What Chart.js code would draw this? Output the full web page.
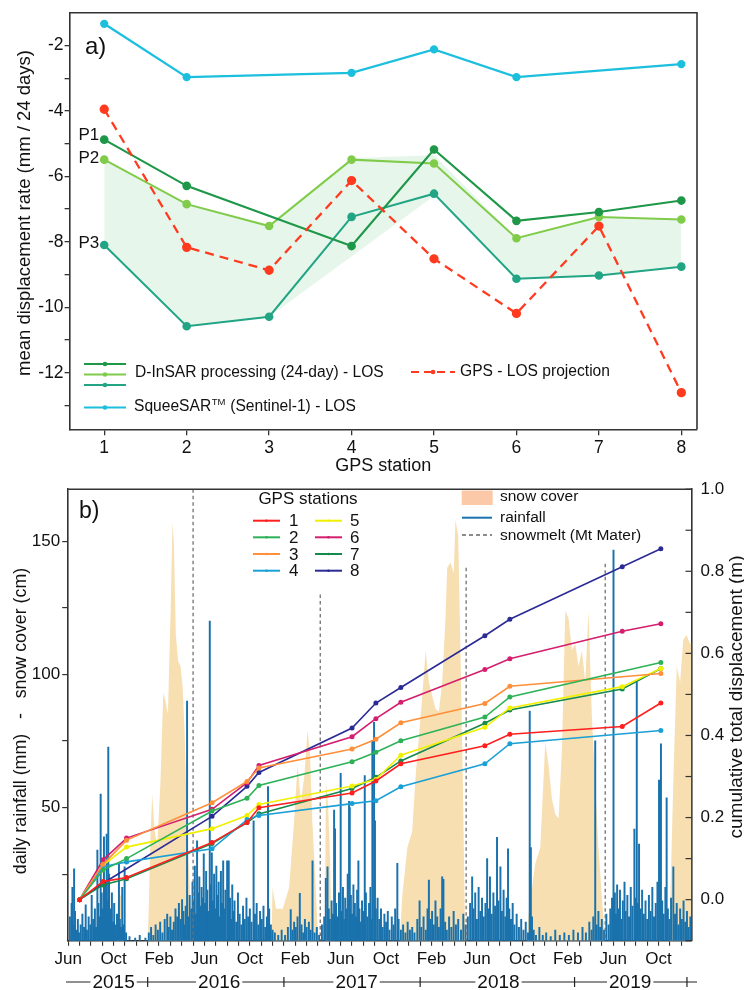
<!DOCTYPE html>
<html>
<head>
<meta charset="utf-8">
<script src="https://cdn.jsdelivr.net/npm/chart.js@4.4.1/dist/chart.umd.min.js"></script>
<style>
  body { margin: 0; background: #fff; }
  #wrap { position: relative; width: 744px; height: 990px; background: #fff; overflow: hidden; }
  canvas { position: absolute; left: 0; }
</style>
</head>
<body>
<div id="wrap">
  <canvas id="chartA" width="744" height="480" style="top:0"></canvas>
  <canvas id="chartB" width="744" height="520" style="top:470px"></canvas>
</div>
<script>
// ---------- panel a data ----------
const stations = [1, 2, 3, 4, 5, 6, 7, 8];
const dinsarP1 = [-4.88, -6.29, null, -8.13, -5.18, -7.36, -7.09, -6.74];
const dinsarP2 = [-5.49, -6.85, -7.52, -5.49, -5.61, -7.89, -7.24, -7.32];
const dinsarP3 = [-8.10, -10.58, -10.29, -7.24, -6.53, -9.13, -9.03, -8.76];
const squeesar = [-1.34, -2.97, null, -2.84, -2.12, -2.97, null, -2.57];
const gpsLos = [-3.95, -8.17, -8.87, -6.13, -8.52, -10.19, -7.52, -12.61];
const bandUpper = [-5.49, -6.85, -7.52, -5.45, -5.35, -7.89, -7.24, -7.32];
const bandLower = [-8.10, -10.58, -10.29, null, -6.60, -9.13, -9.03, -8.76];
const rateTicks = [-2, -4, -6, -8, -10, -12];

// ---------- panel b data (x = months since 1 Jun 2015) ----------
const monthNames = { 0: 'Jun', 4: 'Oct', 8: 'Feb' };
const yearLabels = ['2015', '2016', '2017', '2018', '2019'];
const yearLabelPos = [4.0, 13.3, 25.4, 37.9, 49.5];
const yearMarks = [7, 19, 31, 44.6, 54.5];
const leftTickLabels = [50, 100, 150];

const gpsDates = [1.0, 3.07, 5.14, 12.67, 15.75, 16.8, 25.0, 27.1, 29.3, 36.7, 38.9, 48.8, 52.2];
const station1 = [0, 0.044, 0.054, 0.139, 0.188, 0.224, 0.260, 0.289, 0.331, 0.375, 0.403, 0.422, 0.479];
const station2 = [0, 0.072, 0.100, 0.216, 0.247, 0.278, 0.336, 0.359, 0.387, 0.445, 0.494, null, 0.578];
const station3 = [0, 0.086, 0.145, 0.236, 0.288, 0.321, 0.367, 0.391, 0.431, 0.478, 0.520, null, 0.551];
const station4 = [0, 0.080, 0.092, 0.124, 0.195, 0.205, 0.234, 0.241, 0.275, 0.331, 0.380, null, 0.412];
const station5 = [0, 0.084, 0.128, 0.173, 0.205, 0.232, 0.277, 0.293, 0.352, 0.420, 0.467, 0.519, 0.563];
const station6 = [0, 0.097, 0.150, 0.220, 0.285, 0.327, 0.397, 0.441, 0.481, 0.561, 0.587, 0.654, 0.672];
const station7 = [0, 0.036, 0.051, 0.137, 0.188, 0.209, 0.271, 0.298, 0.338, 0.430, 0.462, 0.513, 0.563];
const station8 = [0, 0.040, null, 0.203, 0.276, 0.310, 0.418, 0.479, 0.517, 0.643, 0.683, 0.811, 0.855];

const snowmeltDates = [11.0, 22.2, 35.05, 47.3];
const snowmeltTop = [169.5, 130, 140, 141.5];

const snowCover = [
  [0, 0], [4.3, 0], [4.4, 18], [4.8, 16], [4.9, 0], [7.0, 0], [7.1, 13], [7.25, 40], [7.4, 55], [7.6, 42],
  [7.84, 35], [8.13, 60], [8.37, 93], [8.57, 90], [8.78, 85], [9.0, 120], [9.19, 157], [9.3, 150], [9.48, 115],
  [9.68, 105], [9.89, 103], [10.07, 96], [10.24, 80], [10.4, 55], [10.6, 30], [10.8, 10], [11.0, 0],
  [17.9, 0], [18.0, 20], [18.3, 12], [18.9, 12], [19.46, 20], [19.9, 45], [20.2, 66], [20.5, 52], [20.8, 62],
  [21.08, 79], [21.3, 70], [21.5, 45], [21.75, 25], [21.96, 5], [22.1, 0], [22.6, 0], [22.7, 60], [22.9, 50],
  [23.07, 30], [23.2, 0],
  [29.2, 0], [29.43, 17], [29.87, 35], [30.3, 41], [30.6, 62], [30.9, 77], [31.19, 92], [31.48, 109], [31.77, 97],
  [32.06, 92], [32.36, 87], [32.65, 86], [32.94, 97], [33.23, 121], [33.38, 140], [33.67, 142], [33.96, 138],
  [34.11, 158], [34.35, 152], [34.55, 109], [34.76, 60], [34.93, 10], [35.05, 0],
  [40.4, 0], [40.55, 10], [41.14, 29], [41.58, 35], [42.02, 74.5], [42.31, 66], [42.6, 53.5], [42.9, 47.5],
  [43.19, 46], [43.49, 72], [43.78, 124], [44.07, 121], [44.37, 109], [44.66, 111.5], [44.95, 103], [45.25, 109],
  [45.54, 97], [45.83, 124], [46.12, 84.5], [46.41, 60], [46.7, 35], [47.0, 16.6], [47.3, 0],
  [52.9, 0], [53.0, 10], [53.15, 35], [53.3, 60], [53.6, 103], [53.9, 97], [54.17, 113], [54.47, 114.8], [54.76, 111.5], [54.9, 112]
];

const rainfall = [
  [0.15, 9], [0.3, 14], [0.37, 20], [0.45, 6], [0.52, 27], [0.6, 11], [0.72, 4], [0.85, 8], [0.95, 3],
  [1.1, 6], [1.25, 10], [1.4, 5], [1.54, 13.5], [1.65, 4], [1.8, 9], [1.95, 6], [2.07, 17], [2.2, 8], [2.35, 12],
  [2.45, 5], [2.57, 34], [2.66, 14], [2.75, 9], [2.86, 55], [2.95, 18], [3.05, 12], [3.15, 39], [3.25, 22],
  [3.39, 40], [3.47, 15], [3.53, 72.7], [3.6, 25], [3.68, 10], [3.74, 12], [3.85, 18], [3.95, 7], [4.05, 14],
  [4.18, 6], [4.3, 10], [4.47, 29], [4.55, 8], [4.65, 5], [4.76, 20], [4.85, 6], [4.97, 27.7], [5.1, 3],
  [5.4, 1.5], [5.9, 1], [6.3, 2], [6.8, 1],
  [7.1, 3], [7.3, 5], [7.5, 2], [7.7, 6], [7.9, 4], [8.1, 7], [8.3, 3], [8.5, 8], [8.72, 10], [8.85, 5],
  [9.0, 9], [9.15, 4], [9.3, 7], [9.45, 12], [9.6, 9], [9.75, 14], [9.9, 8], [10.03, 15.4], [10.15, 11],
  [10.25, 6], [10.35, 13], [10.47, 90], [10.58, 9], [10.7, 17], [10.85, 12], [10.95, 22], [11.05, 15],
  [11.15, 28], [11.25, 10], [11.35, 37.5], [11.45, 18], [11.55, 24], [11.65, 13], [11.75, 20], [11.85, 16],
  [11.94, 32.6], [12.05, 14], [12.15, 26], [12.25, 19], [12.35, 11], [12.47, 120], [12.55, 21], [12.65, 33],
  [12.75, 15], [12.85, 25], [12.95, 12], [13.05, 28], [13.15, 17], [13.25, 22], [13.35, 9], [13.45, 26],
  [13.55, 14], [13.65, 30], [13.75, 12], [13.85, 19], [14.0, 30], [14.14, 30], [14.25, 16], [14.35, 8],
  [14.45, 21], [14.55, 11], [14.65, 15], [14.8, 7], [14.95, 18], [15.1, 10], [15.25, 6], [15.4, 13],
  [15.55, 8], [15.7, 16], [15.85, 9], [16.0, 12], [16.15, 7], [16.33, 45], [16.45, 10], [16.6, 14],
  [16.75, 6], [16.9, 11], [17.05, 8], [17.2, 13], [17.35, 5], [17.5, 9], [17.6, 57.9], [17.7, 12],
  [17.85, 6], [18.0, 4], [18.2, 3], [18.5, 2], [18.8, 4], [19.1, 2], [19.35, 5],
  [19.6, 11.7], [19.75, 4], [19.9, 7], [20.05, 5], [20.2, 9], [20.4, 17.8], [20.55, 6], [20.7, 3], [20.85, 8],
  [21.0, 5], [21.2, 7], [21.35, 4], [21.52, 30], [21.7, 3], [21.9, 5], [22.1, 2], [22.35, 6], [22.55, 9],
  [22.69, 23.4], [22.84, 27.7], [22.95, 12], [23.05, 8], [23.2, 15], [23.32, 10], [23.42, 49], [23.5, 42],
  [23.6, 14], [23.72, 9], [23.85, 18], [24.0, 62.8], [24.1, 11], [24.2, 20], [24.3, 8], [24.4, 16],
  [24.52, 12], [24.62, 25], [24.74, 52.3], [24.8, 50], [24.9, 17], [25.0, 10], [25.12, 21], [25.25, 14],
  [25.35, 9], [25.45, 19], [25.56, 30], [25.65, 12], [25.75, 7], [25.88, 15], [26.0, 11], [26.12, 62],
  [26.22, 18], [26.35, 9], [26.5, 14], [26.62, 20], [26.72, 8], [26.79, 75], [26.94, 82], [27.02, 45],
  [27.1, 12], [27.25, 16], [27.4, 8], [27.55, 12], [27.7, 5], [27.85, 10], [28.0, 7], [28.15, 11], [28.3, 4],
  [28.5, 9], [28.65, 6], [28.8, 12], [28.99, 29], [29.1, 8], [29.3, 4], [29.5, 6], [29.7, 3], [29.9, 7],
  [30.1, 4], [30.3, 5], [30.5, 3], [30.75, 8], [30.95, 15], [31.1, 5], [31.3, 9], [31.5, 4], [31.65, 12],
  [31.77, 22.8], [31.9, 8], [32.05, 11], [32.2, 6], [32.35, 15], [32.5, 9], [32.65, 5], [32.8, 12],
  [32.94, 24], [33.05, 23], [33.2, 7], [33.35, 4], [33.55, 9], [33.75, 5], [33.95, 11], [34.15, 6],
  [34.35, 8], [34.6, 4], [34.8, 10], [35.0, 6], [35.2, 9], [35.4, 14], [35.58, 24], [35.7, 12], [35.85, 18],
  [36.0, 8], [36.15, 20], [36.3, 11], [36.45, 16], [36.6, 9], [36.75, 14], [36.9, 30.8], [37.0, 12],
  [37.15, 24], [37.3, 10], [37.45, 18], [37.6, 13], [37.77, 38.8], [37.9, 15], [38.07, 27.7], [38.2, 11],
  [38.35, 19], [38.5, 9], [38.62, 16], [38.74, 34.5], [38.85, 12], [39.0, 8], [39.15, 14], [39.3, 6],
  [39.5, 10], [39.7, 5], [39.9, 8], [40.1, 4], [40.3, 7], [40.5, 3], [40.65, 86.2], [40.75, 35], [40.85, 9],
  [41.0, 4], [41.2, 2], [41.5, 5], [41.8, 2], [42.1, 3], [42.5, 1.5], [42.9, 4], [43.3, 2], [43.7, 3],
  [44.1, 2], [44.5, 4], [44.9, 3], [45.3, 5], [45.6, 3], [45.9, 7], [46.1, 4], [46.25, 9], [46.42, 75],
  [46.55, 6], [46.7, 11], [46.85, 5], [47.0, 8], [47.2, 4], [47.4, 10], [47.6, 6], [47.75, 12], [47.9, 16],
  [48.03, 146.6], [48.15, 18], [48.25, 10], [48.35, 21], [48.5, 12], [48.6, 19], [48.72, 8], [48.85, 15],
  [49.0, 22], [49.1, 11], [49.25, 17], [49.4, 9], [49.55, 20], [49.7, 13], [49.87, 41.9], [49.95, 16],
  [50.08, 97.3], [50.18, 14], [50.28, 36.3], [50.4, 12], [50.55, 19], [50.7, 10], [50.85, 15], [51.0, 8],
  [51.15, 17], [51.3, 11], [51.45, 20], [51.6, 9], [51.75, 14], [51.9, 22], [52.04, 60.3], [52.12, 18],
  [52.21, 73.9], [52.32, 15], [52.45, 10], [52.6, 20], [52.71, 53.6], [52.82, 12], [52.95, 8], [53.1, 16],
  [53.3, 27.7], [53.45, 10], [53.6, 14], [53.75, 6], [53.9, 12], [54.05, 8], [54.2, 15], [54.35, 7],
  [54.5, 11], [54.65, 5], [54.8, 9]
];

// ---------- styling ----------
const fontReg = "'Liberation Sans', Arial, sans-serif";
const axisColor = '#333';
const colP1 = '#1f9748', colP2 = '#80cc4a', colP3 = '#22a585', colSq = '#1cbfdd', colGps = '#ff3b1f';
const stationColors = ['#ff1f1f', '#2eb257', '#ff8f3a', '#1aa0d6', '#f0f000', '#d41f6e', '#168a4c', '#2b2b96'];
const rainColor = '#1a72ad';
const snowColor = '#f7dfb2';

function xy(values, xs) {
  return values.map((v, i) => ({ x: xs[i], y: v }));
}

function rotatedText(ctx, text, x, y, size) {
  ctx.save();
  ctx.translate(x, y);
  ctx.rotate(-Math.PI / 2);
  ctx.textAlign = 'center';
  ctx.textBaseline = 'middle';
  ctx.font = size + 'px ' + fontReg;
  ctx.fillStyle = '#111';
  ctx.fillText(text, 0, 0);
  ctx.restore();
}

// ---------- panel a ----------
const panelA = {
  id: 'panelA',
  afterDraw(chart) {
    const { ctx, chartArea: a, scales } = chart;
    ctx.save();
    ctx.strokeStyle = axisColor;
    ctx.lineWidth = 1.6;
    ctx.beginPath();
    ctx.moveTo(a.left, a.top); ctx.lineTo(a.right, a.top); ctx.lineTo(a.right, a.bottom);
    ctx.stroke();

    rotatedText(ctx, 'mean displacement rate (mm / 24 days)', 25, 213, 18.5);

    ctx.fillStyle = '#111';
    ctx.textBaseline = 'middle';
    ctx.font = '24px ' + fontReg;
    ctx.fillText('a)', 85, 47);

    // P labels
    ctx.font = '17px ' + fontReg;
    ctx.textAlign = 'right';
    const px = scales.x.getPixelForValue(1) - 5;
    ctx.fillText('P1', px, scales.y.getPixelForValue(dinsarP1[0]) - 4);
    ctx.fillText('P2', px, scales.y.getPixelForValue(dinsarP2[0]) - 1);
    ctx.fillText('P3', px, scales.y.getPixelForValue(dinsarP3[0]) - 2);

    // legend
    ctx.textAlign = 'left';
    const seg = (x0, x1, y, col, dash) => {
      ctx.strokeStyle = col; ctx.lineWidth = 2.2; ctx.setLineDash(dash || []);
      ctx.beginPath(); ctx.moveTo(x0, y); ctx.lineTo(x1, y); ctx.stroke();
      ctx.setLineDash([]);
      ctx.fillStyle = col; ctx.beginPath(); ctx.arc((x0 + x1) / 2, y, 2.3, 0, Math.PI * 2); ctx.fill();
    };
    seg(84, 126, 364, colP1);
    seg(84, 126, 374.5, colP2);
    seg(84, 126, 385, colP3);
    seg(84, 126, 407.5, colSq);
    seg(411, 455, 372, colGps, [8, 5]);
    ctx.fillStyle = '#111';
    ctx.font = '15.6px ' + fontReg;
    ctx.fillText('D-InSAR processing (24-day) - LOS', 135, 373);
    ctx.fillText('GPS - LOS projection', 460, 372);
    let x = 134;
    ctx.fillText('SqueeSAR', x, 406.5);
    x += ctx.measureText('SqueeSAR').width;
    ctx.font = '9.5px ' + fontReg;
    ctx.fillText('TM', x + 0.5, 402);
    x += ctx.measureText('TM').width + 1;
    ctx.font = '15.6px ' + fontReg;
    ctx.fillText(' (Sentinel-1) - LOS', x, 406.5);
    ctx.restore();
  }
};

new Chart(document.getElementById('chartA'), {
  type: 'line',
  data: {
    datasets: [
      { data: xy(squeesar, stations), borderColor: colSq, backgroundColor: colSq, borderWidth: 2.3,
        pointRadius: 3, spanGaps: true, order: 0 },
      { data: xy(gpsLos, stations), borderColor: colGps, backgroundColor: colGps, borderWidth: 2.3,
        borderDash: [9, 6], pointRadius: 3.5, order: 1 },
      { data: xy(dinsarP1, stations), borderColor: colP1, backgroundColor: colP1, borderWidth: 2.1,
        pointRadius: 3.3, spanGaps: true, order: 2 },
      { data: xy(dinsarP2, stations), borderColor: colP2, backgroundColor: colP2, borderWidth: 2,
        pointRadius: 3.3, order: 3 },
      { data: xy(dinsarP3, stations), borderColor: colP3, backgroundColor: colP3, borderWidth: 2,
        pointRadius: 3.3, order: 4 },
      { data: xy(bandLower, stations), borderWidth: 0, pointRadius: 0, spanGaps: true, fill: false, order: 6 },
      { data: xy(bandUpper, stations), borderWidth: 0, pointRadius: 0, fill: '-1',
        backgroundColor: 'rgba(196,232,205,0.4)', order: 5 }
    ]
  },
  options: {
    responsive: false,
    animation: false,
    devicePixelRatio: 1,
    layout: { padding: { left: 0, right: 47, top: 12.7, bottom: 0 } },
    plugins: { legend: { display: false }, tooltip: { enabled: false } },
    scales: {
      x: {
        type: 'linear', min: 0.58, max: 8.19,
        afterBuildTicks: s => { s.ticks = stations.map(v => ({ value: v })); },
        afterFit: s => { s.height = 50.7; },
        grid: { drawOnChartArea: false, tickLength: 6, color: axisColor, lineWidth: 1.3 },
        border: { color: axisColor, width: 1.6 },
        ticks: { font: { family: fontReg, size: 17.5 }, color: '#111', padding: 2, autoSkip: false, maxRotation: 0 },
        title: { display: true, text: 'GPS station', color: '#111', font: { family: fontReg, size: 18 },
                 padding: { top: 0, bottom: 3 } }
      },
      y: {
        type: 'linear', min: -13.73, max: -1.0,
        afterBuildTicks: s => {
          const t = [];
          for (let v = -13; v <= -2; v++) t.push({ value: v });
          s.ticks = t;
        },
        afterFit: s => { s.width = 69.6; },
        grid: { drawOnChartArea: false, tickLength: 5, color: axisColor, lineWidth: 1.3 },
        border: { color: axisColor, width: 1.6 },
        ticks: { font: { family: fontReg, size: 17.5 }, color: '#111', padding: 1, autoSkip: false,
                 callback: v => rateTicks.includes(v) ? String(v) : '' }
      }
    }
  },
  plugins: [panelA]
});

// ---------- panel b ----------
const panelB = {
  id: 'panelB',
  afterDraw(chart) {
    const { ctx, chartArea: a, scales } = chart;
    ctx.save();
    ctx.strokeStyle = axisColor;
    ctx.lineWidth = 1.6;
    ctx.beginPath(); ctx.moveTo(a.left, a.top); ctx.lineTo(a.right, a.top); ctx.stroke();

    // inward ticks on right axis
    ctx.lineWidth = 1.2;
    for (let i = -1; i <= 10; i++) {
      const y = scales.y2.getPixelForValue(i / 10);
      ctx.beginPath(); ctx.moveTo(a.right - 6, y); ctx.lineTo(a.right, y); ctx.stroke();
    }

    rotatedText(ctx, 'daily rainfall (mm)   -   snow cover (cm)', 21.5, 251, 17.8);
    rotatedText(ctx, 'cumulative total displacement (m)', 737, 227, 19);

    ctx.fillStyle = '#111';
    ctx.textBaseline = 'middle';
    ctx.font = '23px ' + fontReg;
    ctx.fillText('b)', 79, 42);

    // GPS stations legend
    ctx.textAlign = 'center';
    ctx.font = '17px ' + fontReg;
    ctx.fillText('GPS stations', 308, 29.5);
    ctx.textAlign = 'left';
    const rows = [50.7, 67.3, 84, 100.7];
    stationColors.forEach((c, i) => {
      const col = Math.floor(i / 4), y = rows[i % 4];
      const x0 = col ? 315 : 253, x1 = x0 + 27;
      ctx.strokeStyle = c; ctx.lineWidth = 2;
      ctx.beginPath(); ctx.moveTo(x0, y); ctx.lineTo(x1, y); ctx.stroke();
      ctx.fillStyle = c; ctx.beginPath(); ctx.arc((x0 + x1) / 2, y, 1.3, 0, Math.PI * 2); ctx.fill();
      ctx.fillStyle = '#111';
      ctx.fillText(String(i + 1), col ? 350 : 289, y + 1);
    });

    // right legend
    ctx.font = '15.5px ' + fontReg;
    ctx.fillStyle = '#fcc9a8';
    ctx.fillRect(461.7, 20.5, 31, 14.5);
    ctx.strokeStyle = rainColor; ctx.lineWidth = 2;
    ctx.beginPath(); ctx.moveTo(462, 47.7); ctx.lineTo(492, 47.7); ctx.stroke();
    ctx.strokeStyle = '#666'; ctx.lineWidth = 1.3; ctx.setLineDash([4, 3]);
    ctx.beginPath(); ctx.moveTo(462, 65); ctx.lineTo(492, 65); ctx.stroke();
    ctx.setLineDash([]);
    ctx.fillStyle = '#111';
    ctx.fillText('snow cover', 500, 27);
    ctx.fillText('rainfall', 500, 48);
    ctx.fillText('snowmelt (Mt Mater)', 500, 65.5);

    // year row
    const yRow = 512;
    ctx.strokeStyle = '#222'; ctx.lineWidth = 1.2;
    ctx.beginPath(); ctx.moveTo(66, yRow); ctx.lineTo(697, yRow); ctx.stroke();
    yearMarks.forEach(m => {
      const x = scales.x.getPixelForValue(m);
      ctx.beginPath(); ctx.moveTo(x, yRow - 5); ctx.lineTo(x, yRow + 5); ctx.stroke();
    });
    ctx.font = '19px ' + fontReg;
    ctx.textAlign = 'center';
    yearLabels.forEach((t, i) => {
      const x = scales.x.getPixelForValue(yearLabelPos[i]);
      const w = ctx.measureText(t).width + 4;
      ctx.fillStyle = '#fff'; ctx.fillRect(x - w / 2, yRow - 9, w, 18);
      ctx.fillStyle = '#111'; ctx.fillText(t, x, yRow + 1);
    });
    ctx.restore();
  }
};

const stationSeries = [station1, station2, station3, station4, station5, station6, station7, station8];
const gpsDatasets = stationSeries.map((vals, i) => ({
  type: 'line', data: xy(vals, gpsDates), yAxisID: 'y2', borderColor: stationColors[i],
  backgroundColor: stationColors[i], borderWidth: 1.6, pointRadius: 1.7, spanGaps: true, order: 0
}));
const meltDatasets = snowmeltDates.map((m, i) => ({
  type: 'line', data: [{ x: m, y: snowmeltTop[i] }, { x: m, y: 0 }], yAxisID: 'y',
  borderColor: '#707070', borderDash: [3.5, 3], borderWidth: 1.3, pointRadius: 0, order: 1
}));

new Chart(document.getElementById('chartB'), {
  type: 'bar',
  data: {
    datasets: [
      ...gpsDatasets,
      ...meltDatasets,
      { type: 'bar', data: rainfall.map(([m, v]) => ({ x: m, y: v })), yAxisID: 'y',
        backgroundColor: rainColor, barThickness: 1.3, grouped: false, order: 2 },
      { type: 'line', data: snowCover.map(([m, v]) => ({ x: m, y: v })), yAxisID: 'y',
        borderWidth: 0, pointRadius: 0, fill: 'origin', backgroundColor: snowColor, order: 3 }
    ]
  },
  options: {
    responsive: false,
    animation: false,
    devicePixelRatio: 1,
    layout: { padding: { left: 0, right: 0, top: 13.3, bottom: 0 } },
    plugins: { legend: { display: false }, tooltip: { enabled: false } },
    scales: {
      x: {
        type: 'linear', min: 0, max: 54.9, offset: false,
        afterBuildTicks: s => {
          const t = [];
          for (let m = 0; m <= 54; m++) t.push({ value: m });
          s.ticks = t;
        },
        afterFit: s => { s.height = 49.3; },
        grid: { drawOnChartArea: false, offset: false, tickLength: 5, color: axisColor, lineWidth: 1.1 },
        border: { color: axisColor, width: 1.6 },
        ticks: { font: { family: fontReg, size: 17 }, color: '#111', padding: 3, autoSkip: false, maxRotation: 0,
                 callback: v => (v % 4 === 0 ? monthNames[v % 12] : '') }
      },
      y: {
        position: 'left', min: 0, max: 169.5,
        afterBuildTicks: s => {
          const t = [];
          for (let v = 25; v <= 150; v += 25) t.push({ value: v });
          s.ticks = t;
        },
        afterFit: s => { s.width = 68.2; },
        grid: { drawOnChartArea: false, tickLength: 6, color: axisColor, lineWidth: 1.2 },
        border: { color: axisColor, width: 1.6 },
        ticks: { font: { family: fontReg, size: 17 }, color: '#111', padding: 2, autoSkip: false,
                 callback: v => leftTickLabels.includes(v) ? String(v) : '' }
      },
      y2: {
        position: 'right', min: -0.1, max: 1.0,
        afterBuildTicks: s => {
          const t = [];
          for (let i = 0; i <= 10; i += 2) t.push({ value: i / 10 });
          s.ticks = t;
        },
        afterFit: s => { s.width = 52.5; },
        grid: { drawOnChartArea: false, drawTicks: false },
        border: { color: axisColor, width: 1.6 },
        ticks: { font: { family: fontReg, size: 17 }, color: '#111', padding: 9, autoSkip: false,
                 callback: v => v.toFixed(1) }
      }
    }
  },
  plugins: [panelB]
});
</script>
</body>
</html>
